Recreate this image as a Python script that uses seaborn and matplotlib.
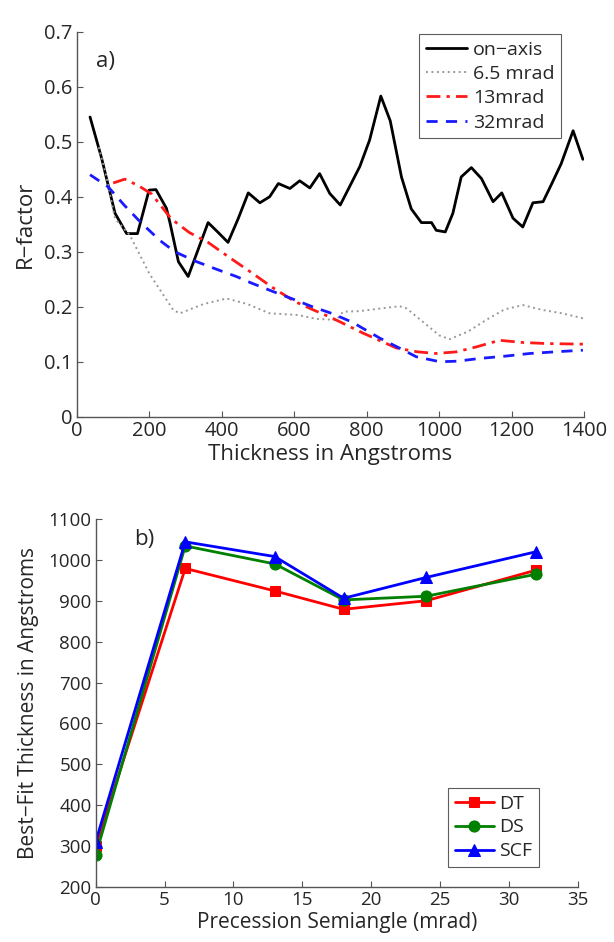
import numpy as np
import pandas as pd
import matplotlib
matplotlib.use("Agg")
import matplotlib.pyplot as plt
import seaborn as sns

# ---------------- data: panel a ----------------
onaxis_x = [36, 68, 105, 137, 167, 199, 218, 247, 257, 280, 307, 362, 390, 417, 445, 473, 505, 532, 556, 588,
            615, 643, 670, 698, 727, 754, 781, 808, 839, 865, 896, 923, 951, 979, 992, 1017, 1038, 1061, 1089,
            1117, 1149, 1173, 1204, 1231, 1259, 1287, 1312, 1337, 1370, 1397]
onaxis_y = [0.545, 0.47, 0.37, 0.333, 0.333, 0.412, 0.413, 0.379, 0.352, 0.282, 0.255, 0.353, 0.335, 0.317, 0.36,
            0.407, 0.389, 0.400, 0.424, 0.415, 0.429, 0.416, 0.442, 0.406, 0.385, 0.42, 0.455, 0.503, 0.583,
            0.538, 0.436, 0.378, 0.353, 0.353, 0.339, 0.336, 0.37, 0.436, 0.453, 0.433, 0.391, 0.407, 0.361,
            0.345, 0.389, 0.391, 0.425, 0.46, 0.52, 0.468]

m65_x = [60, 80, 105, 146, 200, 266, 284, 350, 413, 470, 532, 610, 660, 716, 735, 780, 840, 891, 910, 960,
         1000, 1029, 1080, 1130, 1180, 1231, 1287, 1340, 1397]
m65_y = [0.49, 0.44, 0.36, 0.330, 0.26, 0.194, 0.188, 0.205, 0.215, 0.205, 0.188, 0.185, 0.178, 0.176, 0.191,
         0.192, 0.197, 0.201, 0.197, 0.17, 0.148, 0.141, 0.155, 0.176, 0.195, 0.203, 0.194, 0.188, 0.179]

m13_x = [100, 132, 170, 206, 260, 310, 362, 420, 482, 540, 600, 650, 703, 790, 882, 940, 992, 1048, 1103,
         1167, 1231, 1300, 1397]
m13_y = [0.425, 0.432, 0.42, 0.405, 0.36, 0.335, 0.317, 0.29, 0.262, 0.235, 0.21, 0.195, 0.18, 0.152,
         0.125, 0.118, 0.115, 0.118, 0.127, 0.139, 0.135, 0.133, 0.132]

m32_x = [36, 86, 130, 178, 230, 270, 330, 390, 440, 482, 540, 600, 650, 703, 760, 836, 890, 937, 1002, 1050,
         1112, 1180, 1250, 1320, 1397]
m32_y = [0.44, 0.418, 0.385, 0.352, 0.32, 0.30, 0.282, 0.267, 0.255, 0.243, 0.228, 0.213, 0.20, 0.188, 0.172,
         0.143, 0.125, 0.109, 0.100, 0.101, 0.106, 0.110, 0.115, 0.118, 0.121]

series_a = ["on\u2212axis", "6.5 mrad", "13mrad", "32mrad"]

# ---------------- data: panel b ----------------
semiangle = [0, 6.5, 13, 18, 24, 32]
dt = [300, 979, 924, 879, 900, 975]
ds = [278, 1034, 990, 902, 911, 965]
scf = [311, 1044, 1008, 906, 957, 1020]
series_b = ["DT", "DS", "SCF"]

# ---------------- styling ----------------
sns.set_style("ticks")
plt.rcParams["font.family"] = ["Open Sans", "DejaVu Sans"]
plt.rcParams["xtick.direction"] = "in"
plt.rcParams["ytick.direction"] = "in"

fig = plt.figure(figsize=(6.14, 9.42), dpi=100)
ax1 = fig.add_axes([0.1254, 0.5576, 0.8257, 0.4087])
ax2 = fig.add_axes([0.1559, 0.0584, 0.7850, 0.3907])

spine_col = "#555555"

# panel a
styles_a = [
    (onaxis_x, onaxis_y, "black", "-", 2.0),
    (m65_x, m65_y, "#999999", (0, (1, 1.8)), 1.4),
    (m13_x, m13_y, "#ff1a1a", (0, (5, 2.2, 1.2, 2.2)), 2.0),
    (m32_x, m32_y, "#1a1aff", (0, (4, 3)), 2.0),
]
for (xs, ys, c, ls, lw), name in zip(styles_a, series_a):
    df = pd.DataFrame({"x": xs, "y": ys})
    sns.lineplot(data=df, x="x", y="y", ax=ax1, color=c, linestyle=ls, linewidth=lw,
                 label=name, estimator=None, sort=False)

ax1.set_xlim(0, 1400)
ax1.set_ylim(0, 0.7)
ax1.set_xticks(np.arange(0, 1401, 200))
ax1.set_yticks(np.arange(0, 0.71, 0.1))
ax1.set_yticklabels(["0", "0.1", "0.2", "0.3", "0.4", "0.5", "0.6", "0.7"])
ax1.set_xlabel("Thickness in Angstroms", fontsize=16, labelpad=2)
ax1.set_ylabel("R\u2212factor", fontsize=16, labelpad=6)
ax1.text(52, 0.645, "a)", fontsize=16, va="center")
leg1 = ax1.legend(loc="upper right", bbox_to_anchor=(0.955, 0.994), fontsize=14, frameon=True,
                  fancybox=False, edgecolor="#333333", handlelength=2.1, handletextpad=0.3,
                  borderpad=0.35, labelspacing=0.32, borderaxespad=0)
leg1.get_frame().set_linewidth(0.8)
ax1.tick_params(axis="both", labelsize=14.5)

# panel b
styles_b = [
    (dt, "#ff0000", "s", 7),
    (ds, "#008000", "o", 8),
    (scf, "#0000ff", "^", 9),
]
for (ys, c, mk, ms), name in zip(styles_b, series_b):
    df = pd.DataFrame({"x": semiangle, "y": ys})
    sns.lineplot(data=df, x="x", y="y", ax=ax2, color=c, marker=mk, markersize=ms,
                 markeredgecolor=c, linewidth=2.0, label=name, estimator=None, sort=False)

ax2.set_xlim(0, 35)
ax2.set_ylim(200, 1100)
ax2.set_xticks(np.arange(0, 36, 5))
ax2.set_yticks(np.arange(200, 1101, 100))
ax2.set_xlabel("Precession Semiangle (mrad)", fontsize=15, labelpad=2)
ax2.set_ylabel("Best\u2212Fit Thickness in Angstroms", fontsize=15, labelpad=7)
ax2.text(2.8, 1050, "b)", fontsize=16, va="center")
leg2 = ax2.legend(loc="lower right", bbox_to_anchor=(0.92, 0.054), fontsize=14, frameon=True,
                  fancybox=False, edgecolor="#333333", handlelength=2.0, handletextpad=0.3,
                  borderpad=0.35, labelspacing=0.3, borderaxespad=0)
leg2.get_frame().set_linewidth(0.8)
ax2.tick_params(axis="both", labelsize=13.5)

for ax in (ax1, ax2):
    sns.despine(ax=ax)
    for s in ("left", "bottom"):
        ax.spines[s].set_color(spine_col)
        ax.spines[s].set_linewidth(1.0)
    ax.tick_params(axis="both", length=4, width=0.8, color=spine_col, pad=3)

fig.savefig("out.png", dpi=100, facecolor="white")
